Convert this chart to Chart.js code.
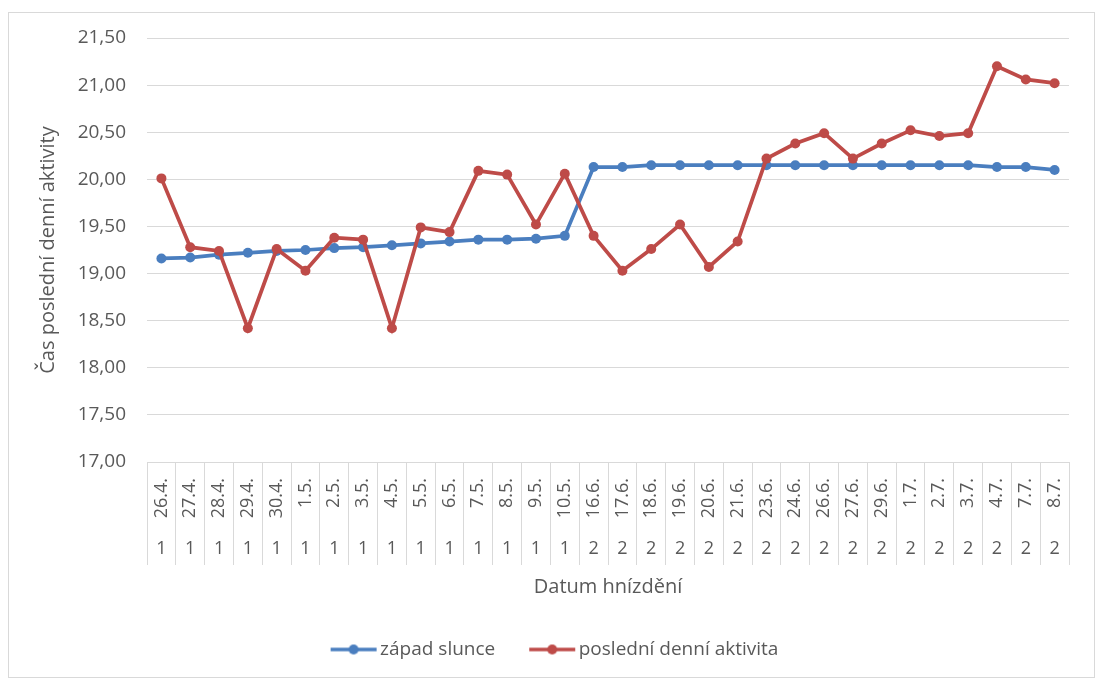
<!DOCTYPE html>
<html>
<head>
<meta charset="utf-8">
<script src="https://cdn.jsdelivr.net/npm/chart.js@4/dist/chart.umd.min.js"></script>
<style>
  html, body { margin: 0; padding: 0; background: #fff; }
  #wrap { position: relative; width: 1098px; height: 680px; overflow: hidden; }
  #wrap canvas { position: absolute; left: 0; top: 0; }
  #frame { position: absolute; left: 8px; top: 12px; width: 1087px; height: 666px;
           border: 1px solid #d9d9d9; box-sizing: border-box; pointer-events: none; }
</style>
</head>
<body>
<div id="wrap">
  <canvas id="chart" width="1098" height="680"></canvas>
  <div id="frame"></div>
</div>
<script>
// Nesting dates (inner category level)
const dates = ['26.4.', '27.4.', '28.4.', '29.4.', '30.4.', '1.5.', '2.5.', '3.5.', '4.5.', '5.5.',
               '6.5.', '7.5.', '8.5.', '9.5.', '10.5.', '16.6.', '17.6.', '18.6.', '19.6.', '20.6.',
               '21.6.', '23.6.', '24.6.', '26.6.', '27.6.', '29.6.', '1.7.', '2.7.', '3.7.', '4.7.',
               '7.7.', '8.7.'];
// Nesting number (outer category level)
const groups = ['1', '1', '1', '1', '1', '1', '1', '1', '1', '1', '1', '1', '1', '1', '1',
                '2', '2', '2', '2', '2', '2', '2', '2', '2', '2', '2', '2', '2', '2', '2', '2', '2'];
// Sunset time (decimal hours)
const sunset = [19.16, 19.17, 19.20, 19.22, 19.24, 19.25, 19.27, 19.28, 19.30, 19.32,
                19.34, 19.36, 19.36, 19.37, 19.40, 20.13, 20.13, 20.15, 20.15, 20.15,
                20.15, 20.15, 20.15, 20.15, 20.15, 20.15, 20.15, 20.15, 20.15, 20.13,
                20.13, 20.10];
// Last daily activity (decimal hours)
const lastActivity = [20.01, 19.28, 19.24, 18.42, 19.26, 19.03, 19.38, 19.36, 18.42, 19.49,
                      19.44, 20.09, 20.05, 19.52, 20.06, 19.40, 19.03, 19.26, 19.52, 19.07,
                      19.34, 20.22, 20.38, 20.49, 20.22, 20.38, 20.52, 20.46, 20.49, 21.20,
                      21.06, 21.02];
// Value axis range
const yMin = 17, yMax = 21.5, yStep = 0.5;

const seriesNames = ['západ slunce', 'poslední denní aktivita'];
const BLUE = '#4a7ebf';
const RED = '#be4b48';
const TEXT = '#595959';
const GRID = '#d9d9d9';
const FONT = "'Open Sans', 'DejaVu Sans', sans-serif";

// Legend symbol: short line with a round marker, like the series style
function legendSymbol(color) {
  const c = document.createElement('canvas');
  c.width = 48; c.height = 14;
  const g = c.getContext('2d');
  g.strokeStyle = color; g.lineWidth = 3.5;
  g.beginPath(); g.moveTo(1, 7); g.lineTo(47, 7); g.stroke();
  g.fillStyle = color;
  g.beginPath(); g.arc(24, 7, 5, 0, Math.PI * 2); g.fill();
  return c;
}

const fmt = v => v.toFixed(2).replace('.', ',');

new Chart(document.getElementById('chart'), {
  type: 'line',
  data: {
    labels: dates,
    datasets: [
      {
        label: seriesNames[0], data: sunset, order: 1,
        borderColor: BLUE, backgroundColor: BLUE, borderWidth: 3.75,
        pointRadius: 5, pointBorderWidth: 0, pointBackgroundColor: BLUE,
        pointStyle: 'circle', tension: 0, xAxisID: 'x', legendSymbol: legendSymbol(BLUE)
      },
      {
        label: seriesNames[1], data: lastActivity, order: 0,
        borderColor: RED, backgroundColor: RED, borderWidth: 3.75,
        pointRadius: 5, pointBorderWidth: 0, pointBackgroundColor: RED,
        pointStyle: 'circle', tension: 0, xAxisID: 'x', legendSymbol: legendSymbol(RED)
      }
    ]
  },
  options: {
    responsive: false,
    animation: false,
    devicePixelRatio: 1,
    layout: { padding: { left: 46, right: 29, top: 38, bottom: 11 } },
    plugins: {
      tooltip: { enabled: false },
      legend: {
        position: 'bottom',
        labels: {
          usePointStyle: true,
          pointStyleWidth: 34,
          padding: 40,
          color: TEXT,
          font: { family: FONT, size: 19 },
          generateLabels(chart) {
            return chart.data.datasets.map((ds, i) => ({
              text: ds.label,
              pointStyle: ds.legendSymbol,
              fillStyle: ds.borderColor,
              strokeStyle: ds.borderColor,
              lineWidth: 0,
              fontColor: TEXT,
              hidden: false,
              datasetIndex: i
            }));
          }
        }
      }
    },
    scales: {
      x: {
        type: 'category',
        position: 'bottom',
        offset: true,
        labels: dates,
        grid: {
          display: true, offset: true, drawOnChartArea: false, drawTicks: true,
          tickLength: 103, color: GRID, lineWidth: 1
        },
        border: { display: true, color: GRID, width: 1 },
        ticks: {
          autoSkip: false, minRotation: 90, maxRotation: 90,
          padding: -87, color: TEXT, font: { family: FONT, size: 18 }
        },
        afterFit(scale) { scale.height = 76; }
      },
      x2: {
        type: 'category',
        position: 'bottom',
        offset: true,
        labels: groups,
        grid: { display: false, drawTicks: false },
        border: { display: false },
        ticks: {
          autoSkip: false, maxRotation: 0, minRotation: 0, padding: 0,
          color: TEXT, font: { family: FONT, size: 18 }
        },
        title: {
          display: true, text: 'Datum hnízdění', color: TEXT,
          font: { family: FONT, size: 20 }, padding: { top: 0, bottom: 1 }
        },
        afterFit(scale) { scale.height = 62; }
      },
      y: {
        min: yMin, max: yMax,
        grid: { color: GRID, lineWidth: 1, drawTicks: false },
        border: { display: false },
        ticks: {
          stepSize: yStep, padding: 21, color: TEXT,
          font: { family: FONT, size: 19 },
          callback: v => fmt(v)
        },
        title: {
          display: true, text: 'Čas poslední denní aktivity', color: TEXT,
          font: { family: FONT, size: 20 }, padding: { top: -10, bottom: 0 }
        },
        afterFit(scale) { scale.width = 101; }
      }
    }
  }
});
</script>
</body>
</html>
